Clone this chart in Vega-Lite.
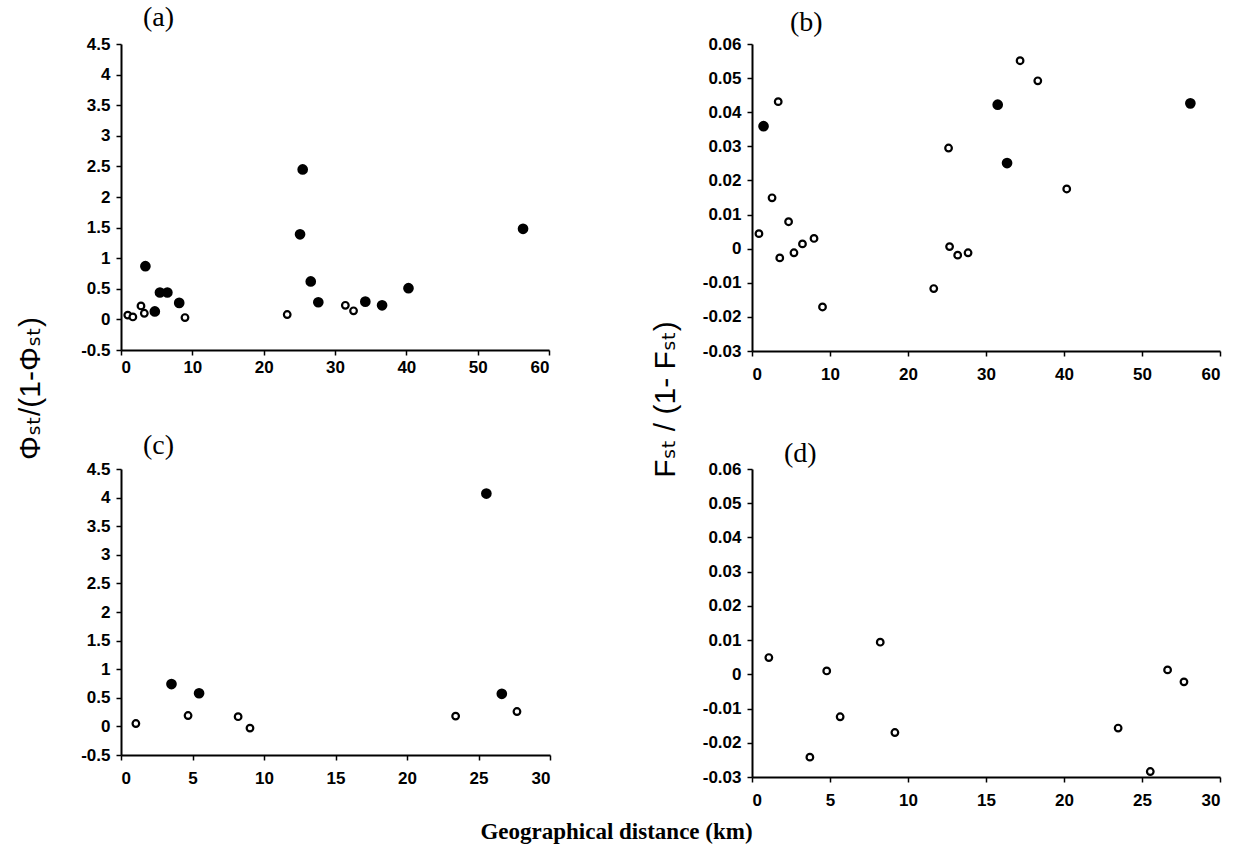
{
  "$schema": "https://vega.github.io/schema/vega-lite/v6.json",
  "background": "white",
  "padding": {"left": 15, "top": 4, "right": 5, "bottom": 5},
  "datasets": {
    "a": [
      {"dist": 0.95, "value": 0.07, "type": "open"},
      {"dist": 1.66, "value": 0.04, "type": "open"},
      {"dist": 2.8, "value": 0.22, "type": "open"},
      {"dist": 3.27, "value": 0.1, "type": "open"},
      {"dist": 8.97, "value": 0.03, "type": "open"},
      {"dist": 23.3, "value": 0.08, "type": "open"},
      {"dist": 31.45, "value": 0.23, "type": "open"},
      {"dist": 32.6, "value": 0.14, "type": "open"},
      {"dist": 3.42, "value": 0.87, "type": "filled"},
      {"dist": 4.74, "value": 0.13, "type": "filled"},
      {"dist": 5.46, "value": 0.44, "type": "filled"},
      {"dist": 6.5, "value": 0.44, "type": "filled"},
      {"dist": 8.16, "value": 0.27, "type": "filled"},
      {"dist": 25.47, "value": 2.45, "type": "filled"},
      {"dist": 25.1, "value": 1.39, "type": "filled"},
      {"dist": 26.6, "value": 0.62, "type": "filled"},
      {"dist": 27.66, "value": 0.28, "type": "filled"},
      {"dist": 34.25, "value": 0.29, "type": "filled"},
      {"dist": 36.6, "value": 0.23, "type": "filled"},
      {"dist": 40.3, "value": 0.51, "type": "filled"},
      {"dist": 56.36, "value": 1.48, "type": "filled"}
    ],
    "b": [
      {"dist": 0.89, "value": 0.0044, "type": "open"},
      {"dist": 2.57, "value": 0.0149, "type": "open"},
      {"dist": 3.36, "value": 0.0431, "type": "open"},
      {"dist": 3.56, "value": -0.0027, "type": "open"},
      {"dist": 4.69, "value": 0.0079, "type": "open"},
      {"dist": 5.38, "value": -0.0012, "type": "open"},
      {"dist": 6.47, "value": 0.0014, "type": "open"},
      {"dist": 7.95, "value": 0.003, "type": "open"},
      {"dist": 9.04, "value": -0.0171, "type": "open"},
      {"dist": 23.3, "value": -0.0117, "type": "open"},
      {"dist": 25.2, "value": 0.0295, "type": "open"},
      {"dist": 25.33, "value": 0.0006, "type": "open"},
      {"dist": 26.37, "value": -0.0019, "type": "open"},
      {"dist": 27.7, "value": -0.0012, "type": "open"},
      {"dist": 34.37, "value": 0.0551, "type": "open"},
      {"dist": 36.64, "value": 0.0492, "type": "open"},
      {"dist": 40.35, "value": 0.0175, "type": "open"},
      {"dist": 1.48, "value": 0.0359, "type": "filled"},
      {"dist": 31.5, "value": 0.0422, "type": "filled"},
      {"dist": 32.7, "value": 0.0251, "type": "filled"},
      {"dist": 56.2, "value": 0.0426, "type": "filled"}
    ],
    "c": [
      {"dist": 1.04, "value": 0.05, "type": "open"},
      {"dist": 4.69, "value": 0.19, "type": "open"},
      {"dist": 8.19, "value": 0.17, "type": "open"},
      {"dist": 9.02, "value": -0.03, "type": "open"},
      {"dist": 23.4, "value": 0.18, "type": "open"},
      {"dist": 27.69, "value": 0.26, "type": "open"},
      {"dist": 3.53, "value": 0.74, "type": "filled"},
      {"dist": 5.46, "value": 0.58, "type": "filled"},
      {"dist": 25.55, "value": 4.07, "type": "filled"},
      {"dist": 26.63, "value": 0.57, "type": "filled"}
    ],
    "d": [
      {"dist": 1.08, "value": 0.0049, "type": "open"},
      {"dist": 3.71, "value": -0.0242, "type": "open"},
      {"dist": 4.79, "value": 0.001, "type": "open"},
      {"dist": 5.65, "value": -0.0124, "type": "open"},
      {"dist": 8.22, "value": 0.0094, "type": "open"},
      {"dist": 9.16, "value": -0.017, "type": "open"},
      {"dist": 23.47, "value": -0.0157, "type": "open"},
      {"dist": 25.53, "value": -0.0284, "type": "open"},
      {"dist": 26.64, "value": 0.0013, "type": "open"},
      {"dist": 27.69, "value": -0.0022, "type": "open"}
    ]
  },
  "bounds": "flush",
  "columns": 2,
  "spacing": {"row": 118, "column": 202},
  "concat": [
    {
      "width": 428, "height": 306,
      "title": {"text": "(a)", "dx": 22, "offset": 3},
      "data": {"name": "a"},
      "mark": {"type": "point", "shape": "circle", "filled": true, "stroke": "black", "strokeWidth": 2.2, "opacity": 1},
      "encoding": {
        "x": {"field": "dist", "type": "quantitative", "scale": {"domain": [0, 60], "nice": false, "zero": false},
              "axis": {"title": null, "values": [0, 10, 20, 30, 40, 50, 60], "labelPadding": 4}},
        "y": {"field": "value", "type": "quantitative", "scale": {"domain": [-0.5, 4.5], "nice": false, "zero": false},
              "axis": {"values": [-0.5, 0, 0.5, 1, 1.5, 2, 2.5, 3, 3.5, 4, 4.5], "labelExpr": "'' + datum.value",
                       "title": "Φₛₜ/(1-Φₛₜ)", "titleX": -91, "titleY": 344, "titleAngle": 270, "titleAlign": "center", "titleBaseline": "middle"}},
        "fill": {"field": "type", "type": "nominal", "scale": {"domain": ["filled", "open"], "range": ["black", "white"]}, "legend": null},
        "size": {"field": "type", "type": "nominal", "scale": {"domain": ["filled", "open"], "range": [72, 44]}, "legend": null}
      }
    },
    {
      "width": 468, "height": 307,
      "title": {"text": "(b)", "dx": 38, "offset": -2},
      "data": {"name": "b"},
      "mark": {"type": "point", "shape": "circle", "filled": true, "stroke": "black", "strokeWidth": 2.2, "opacity": 1},
      "encoding": {
        "x": {"field": "dist", "type": "quantitative", "scale": {"domain": [0, 60], "nice": false, "zero": false},
              "axis": {"title": null, "values": [0, 10, 20, 30, 40, 50, 60], "labelPadding": 10}},
        "y": {"field": "value", "type": "quantitative", "scale": {"domain": [-0.03, 0.06], "nice": false, "zero": false},
              "axis": {"values": [-0.03, -0.02, -0.01, 0, 0.01, 0.02, 0.03, 0.04, 0.05, 0.06], "labelExpr": "'' + datum.value",
                       "title": "Fₛₜ / (1- Fₛₜ)", "titleX": -87, "titleY": 355, "titleAngle": 270, "titleAlign": "center", "titleBaseline": "middle"}},
        "fill": {"field": "type", "type": "nominal", "scale": {"domain": ["filled", "open"], "range": ["black", "white"]}, "legend": null},
        "size": {"field": "type", "type": "nominal", "scale": {"domain": ["filled", "open"], "range": [72, 44]}, "legend": null}
      }
    },
    {
      "width": 429, "height": 286,
      "title": {"text": "(c)", "dx": 22, "offset": 0},
      "data": {"name": "c"},
      "mark": {"type": "point", "shape": "circle", "filled": true, "stroke": "black", "strokeWidth": 2.2, "opacity": 1},
      "encoding": {
        "x": {"field": "dist", "type": "quantitative", "scale": {"domain": [0, 30], "nice": false, "zero": false},
              "axis": {"values": [0, 5, 10, 15, 20, 25, 30], "labelPadding": 10,
                       "title": "Geographical distance (km)", "titleFont": "Liberation Serif", "titleFontSize": 23, "titleFontWeight": "bold",
                       "titleX": 495, "titleY": 83, "titleAlign": "center", "titleBaseline": "alphabetic"}},
        "y": {"field": "value", "type": "quantitative", "scale": {"domain": [-0.5, 4.5], "nice": false, "zero": false},
              "axis": {"title": null, "values": [-0.5, 0, 0.5, 1, 1.5, 2, 2.5, 3, 3.5, 4, 4.5], "labelExpr": "'' + datum.value"}},
        "fill": {"field": "type", "type": "nominal", "scale": {"domain": ["filled", "open"], "range": ["black", "white"]}, "legend": null},
        "size": {"field": "type", "type": "nominal", "scale": {"domain": ["filled", "open"], "range": [72, 44]}, "legend": null}
      }
    },
    {
      "width": 468, "height": 308,
      "title": {"text": "(d)", "dx": 32, "offset": -8},
      "data": {"name": "d"},
      "mark": {"type": "point", "shape": "circle", "filled": true, "stroke": "black", "strokeWidth": 2.2, "opacity": 1},
      "encoding": {
        "x": {"field": "dist", "type": "quantitative", "scale": {"domain": [0, 30], "nice": false, "zero": false},
              "axis": {"title": null, "values": [0, 5, 10, 15, 20, 25, 30], "labelPadding": 10}},
        "y": {"field": "value", "type": "quantitative", "scale": {"domain": [-0.03, 0.06], "nice": false, "zero": false},
              "axis": {"title": null, "values": [-0.03, -0.02, -0.01, 0, 0.01, 0.02, 0.03, 0.04, 0.05, 0.06], "labelExpr": "'' + datum.value"}},
        "fill": {"field": "type", "type": "nominal", "scale": {"domain": ["filled", "open"], "range": ["black", "white"]}, "legend": null},
        "size": {"field": "type", "type": "nominal", "scale": {"domain": ["filled", "open"], "range": [72, 44]}, "legend": null}
      }
    }
  ],
  "resolve": {"scale": {"fill": "independent", "size": "independent"}},
  "config": {
    "view": {"stroke": null},
    "axis": {
      "grid": false,
      "domainColor": "black", "domainWidth": 2,
      "tickColor": "black", "tickWidth": 1.5, "tickSize": 5,
      "labelFont": "Liberation Sans", "labelFontWeight": "bold", "labelFontSize": 17, "labelColor": "black",
      "titleFont": "Liberation Sans, DejaVu Sans", "titleFontSize": 30, "titleFontWeight": "normal", "titleColor": "black"
    },
    "axisY": {"labelPadding": 6},
    "title": {"font": "Liberation Serif", "fontSize": 28, "fontWeight": "normal", "anchor": "start", "baseline": "alphabetic", "color": "black", "frame": "group"}
  }
}
